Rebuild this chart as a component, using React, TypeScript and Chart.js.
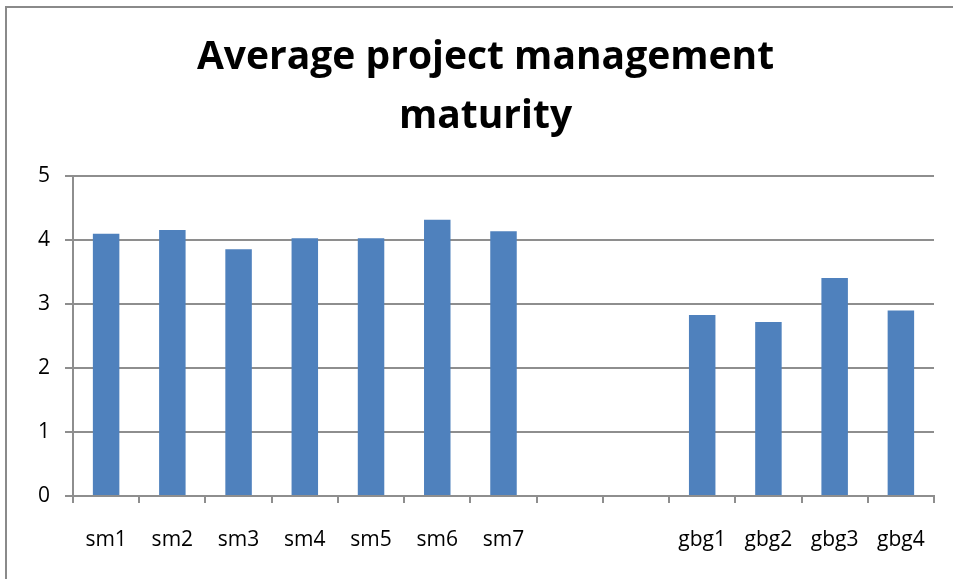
import React, { useEffect, useRef } from "react";
import { Chart, registerables } from "chart.js";

Chart.register(...registerables);

const categories = ["sm1", "sm2", "sm3", "sm4", "sm5", "sm6", "sm7", "", "", "gbg1", "gbg2", "gbg3", "gbg4"];
const maturity = [4.1, 4.16, 3.86, 4.03, 4.03, 4.32, 4.14, null, null, 2.83, 2.72, 3.41, 2.9];
const yTicks = [0, 1, 2, 3, 4, 5];
const titleLines = ["Average project management", "maturity"];

export default function App() {
  const ref = useRef<HTMLCanvasElement | null>(null);

  useEffect(() => {
    if (!ref.current) return;
    const gridColor = "#8e8e8e";
    const chart = new Chart(ref.current, {
      type: "bar",
      data: {
        labels: categories,
        datasets: [
          {
            label: "Average",
            data: maturity,
            backgroundColor: "#4F81BD",
            borderWidth: 0,
            categoryPercentage: 1,
            barPercentage: 0.4,
          },
        ],
      },
      options: {
        animation: false,
        responsive: true,
        maintainAspectRatio: false,
        layout: { padding: { left: 0, right: 0, top: 0, bottom: 0 } },
        plugins: {
          legend: { display: false },
          tooltip: { enabled: false },
          title: {
            display: true,
            text: titleLines,
            color: "#000",
            font: { family: "'Open Sans'", size: 39, weight: "bold", lineHeight: 1.51 },
            padding: { top: 28.5, bottom: 30 },
          },
        },
        scales: {
          x: {
            offset: true,
            grid: {
              offset: true,
              drawOnChartArea: false,
              drawTicks: true,
              tickLength: 7,
              color: gridColor,
              lineWidth: 2,
            },
            border: { display: true, color: gridColor, width: 2 },
            ticks: {
              color: "#000",
              font: { family: "'Open Sans'", size: 21 },
              padding: 24,
              maxRotation: 0,
              autoSkip: false,
            },
            afterFit: (scale: any) => {
              scale.height = 83;
            },
          },
          y: {
            min: 0,
            max: 5,
            afterBuildTicks: (scale: any) => {
              scale.ticks = yTicks.map((v) => ({ value: v }));
            },
            grid: {
              color: gridColor,
              lineWidth: 2,
              tickLength: 8,
              drawTicks: true,
            },
            border: { display: true, color: gridColor, width: 2 },
            ticks: {
              color: "#000",
              font: { family: "'Open Sans'", size: 21 },
              padding: 15,
            },
            afterFit: (scale: any) => {
              scale.width = 73;
            },
          },
          spacer: {
            type: "linear",
            position: "right",
            display: true,
            grid: { display: false, drawTicks: false },
            border: { display: false },
            ticks: { display: false },
            afterFit: (scale: any) => {
              scale.width = 37;
            },
          },
        },
      },
    });
    return () => chart.destroy();
  }, []);

  return (
    <div
      style={{
        position: "fixed",
        left: 0,
        top: 0,
        width: 953,
        height: 579,
        overflow: "hidden",
        background: "#fff",
      }}
    >
      <div
        style={{
          position: "absolute",
          left: 5,
          top: 6,
          width: 1000,
          height: 1000,
          borderLeft: "2px solid #8a8a8a",
          borderTop: "2px solid #8a8a8a",
        }}
      />
      <div style={{ position: "absolute", left: 0, top: 0, width: 971, height: 579 }}>
        <canvas ref={ref} />
      </div>
    </div>
  );
}
